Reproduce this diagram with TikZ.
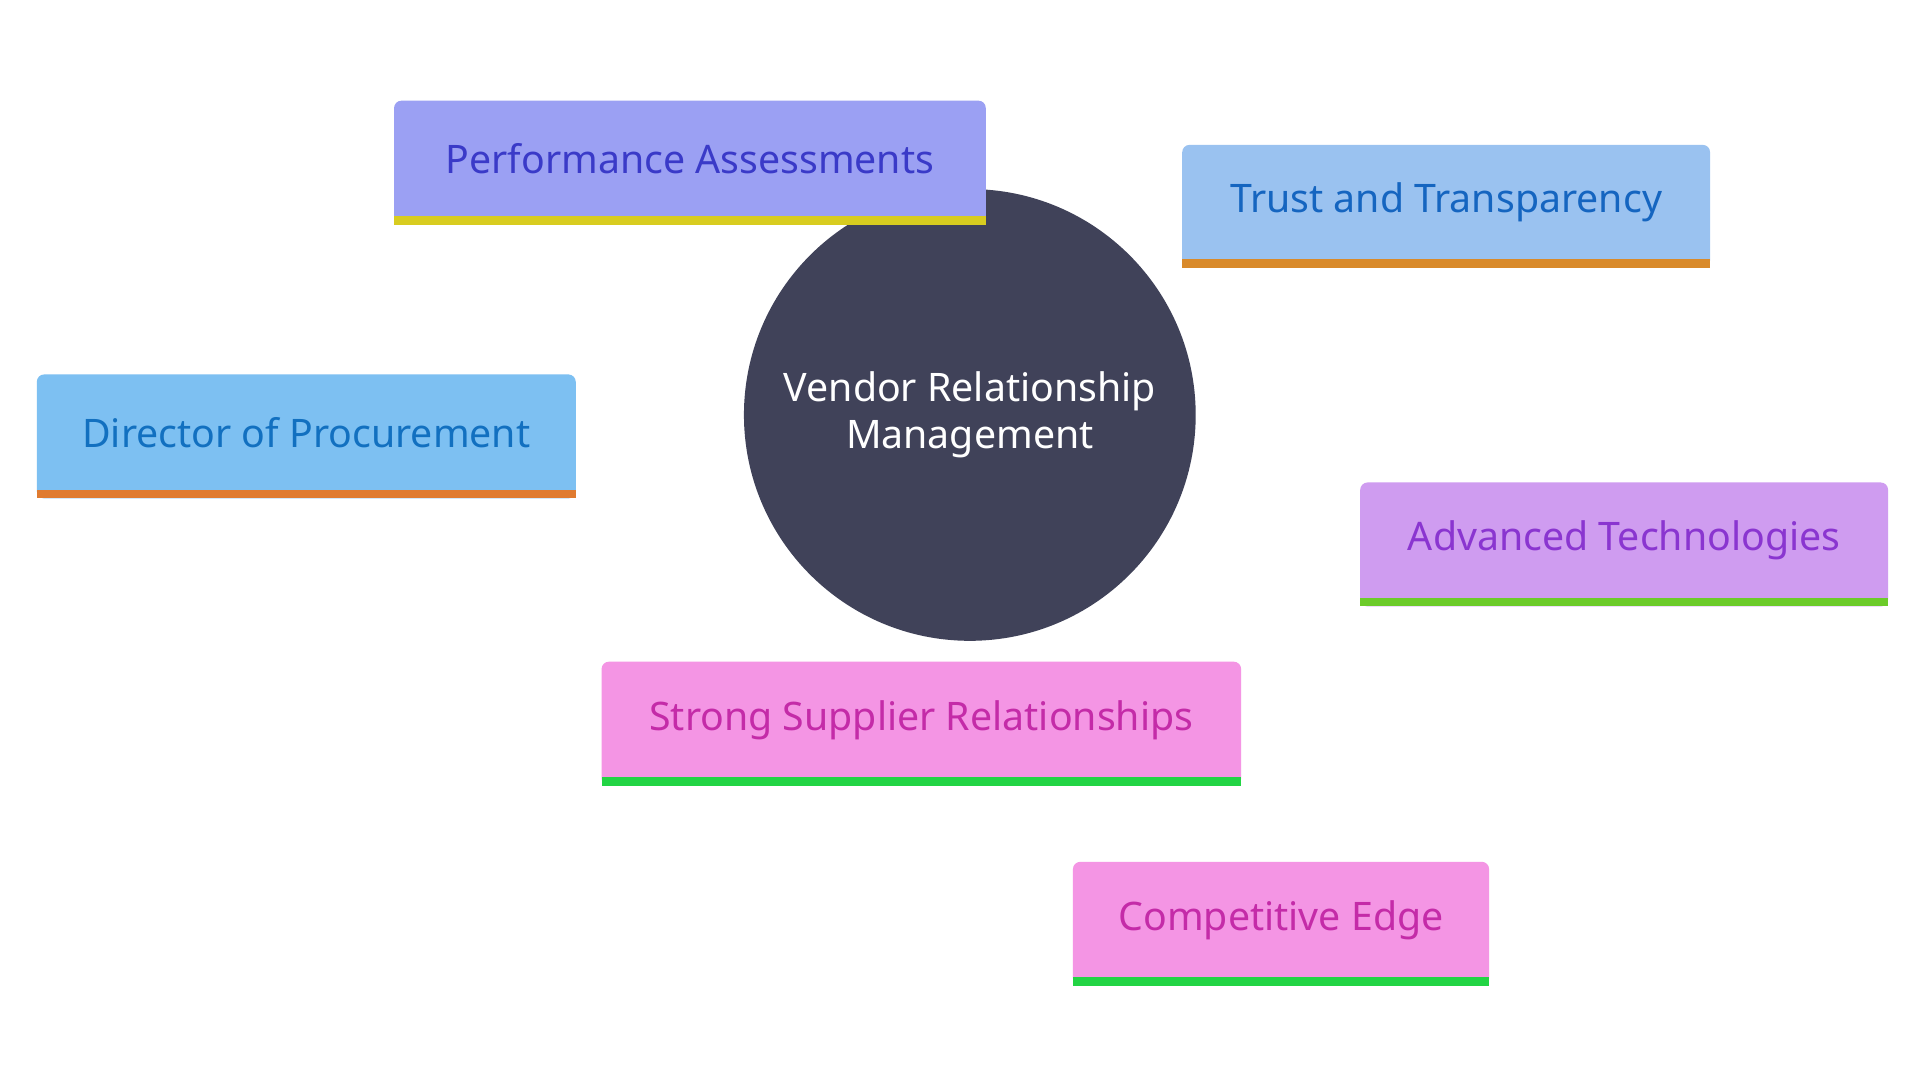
\documentclass[tikz,border=0pt]{standalone}
\usepackage{fontspec}
\setmainfont{Noto Sans}
\usetikzlibrary{backgrounds}
\definecolor{cc}{HTML}{404259}
\definecolor{fpa}{HTML}{9BA0F3}\definecolor{spa}{HTML}{D8CC20}\definecolor{tpa}{HTML}{3A3AC8}
\definecolor{ftt}{HTML}{9AC2F0}\definecolor{stt}{HTML}{D98A2A}\definecolor{ttt}{HTML}{1565C0}
\definecolor{fdp}{HTML}{7DC0F2}\definecolor{sdp}{HTML}{E07B30}\definecolor{tdp}{HTML}{1270C0}
\definecolor{fat}{HTML}{CF9CF0}\definecolor{sat}{HTML}{6CCB2A}\definecolor{tat}{HTML}{8A35D0}
\definecolor{fss}{HTML}{F495E4}\definecolor{sss}{HTML}{22D444}\definecolor{tss}{HTML}{C42BA8}
\tikzset{x=1pt,y=-1pt,
 edge/.style={line width=6pt}}
\newcommand{\mybox}[9]{% name, x1,y1,x2,y2, fill, strip, text, label
 \fill[#6,rounded corners=6pt] (#2,#3) rectangle (#4,#5);
 \fill[#7] (#2,#5-7) rectangle (#4,#5);
 \node[text=#8,font=\fontsize{32}{38}\selectfont] (#1) at ({(#2+#4)/2},{(#3+#5)/2-3}) {#9};}
\begin{document}
\begin{tikzpicture}
\useasboundingbox[fill=white] (0,0) rectangle (1564,880);
\node[circle,fill=cc,minimum size=368pt,inner sep=0pt,text=white,align=center,font=\fontsize{32}{38}\selectfont] (c) at (790,338) {Vendor Relationship\\Management};
\mybox{pa}{321}{82}{803}{183}{fpa}{spa}{tpa}{Performance Assessments}
\mybox{tt}{963}{118}{1393}{218}{ftt}{stt}{ttt}{Trust and Transparency}
\mybox{dp}{30}{305}{469}{406}{fdp}{sdp}{tdp}{Director of Procurement}
\mybox{at}{1108}{393}{1538}{494}{fat}{sat}{tat}{Advanced Technologies}
\mybox{ss}{490}{539}{1011}{640}{fss}{sss}{tss}{Strong Supplier Relationships}
\mybox{ce}{874}{702}{1213}{803}{fss}{sss}{tss}{Competitive Edge}
\coordinate (pae) at (580,150);
\coordinate (tte) at (1100,200);
\coordinate (ate) at (1150,410);
\coordinate (sse) at (755,580);
\coordinate (ss2) at (800,620);
\coordinate (cee) at (1000,720);
\begin{pgfonlayer}{background}
\draw[edge,fpa] (c.center) -- (pae);
\draw[edge,ftt] (c.center) -- (tte);
\draw[edge,fdp] (c.center) -- (dp.center);
\draw[edge,fat] (c.center) -- (ate);
\draw[edge,fss] (c.center) -- (sse);
\draw[edge,fss] (ss2) -- (cee);
\end{pgfonlayer}
\end{tikzpicture}
\end{document}
